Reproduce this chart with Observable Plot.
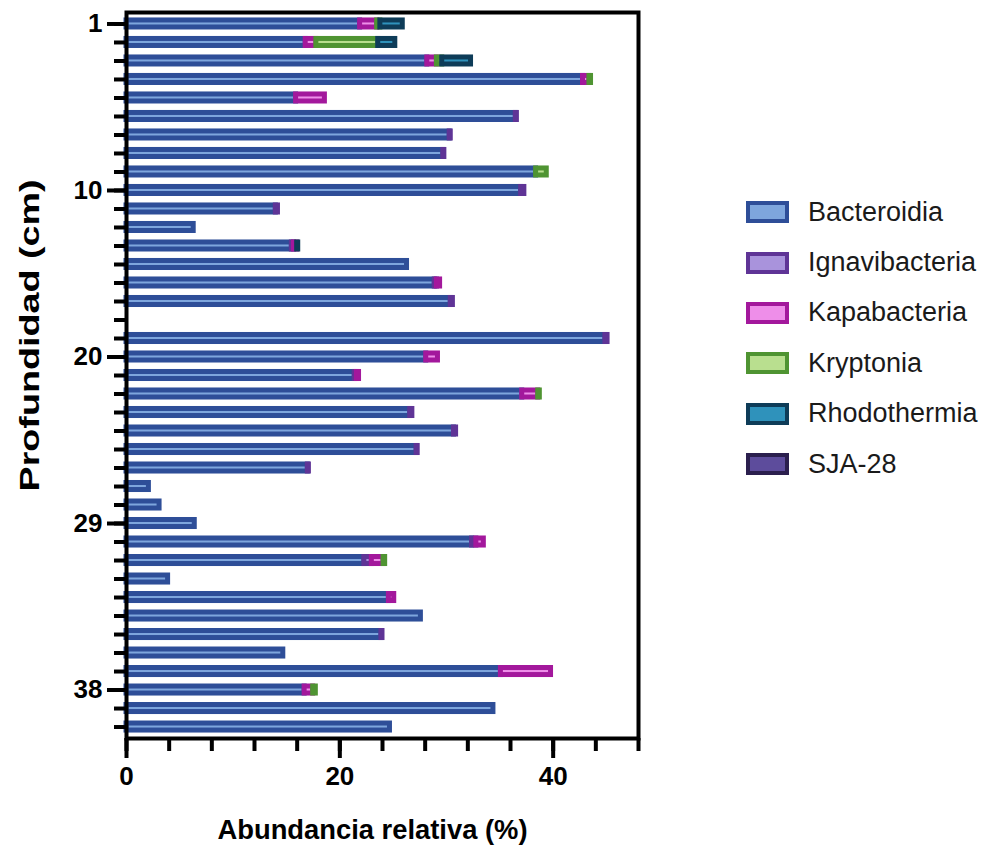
<!DOCTYPE html>
<html>
<head>
<meta charset="utf-8">
<script src="https://cdn.jsdelivr.net/npm/d3@7"></script>
<script src="https://cdn.jsdelivr.net/npm/@observablehq/plot@0.6"></script>
<style>
  body { margin: 0; background: #fff; font-family: "Liberation Sans", Arial, sans-serif; }
  #wrap { position: relative; width: 993px; height: 854px; }
  #legend { position: absolute; left: 746px; top: 187px; }
  .item { display: flex; align-items: center; height: 50.4px; }
  .sw { width: 35px; height: 14px; border: 4px solid; box-sizing: content-box; }
  .lab { margin-left: 19px; font-size: 27px; color: #1a1a1a; }
</style>
</head>
<body>
<div id="wrap"><div id="chart"></div><div id="legend"></div></div>
<script>
// Depth categories (cm); one row (17) has no data
const depths = [1,2,3,4,5,6,7,8,9,10,11,12,13,14,15,16,17,19,20,21,22,23,24,25,26,27,28,29,30,31,32,33,34,35,36,37,38,39,40];
const labelledDepths = ["1","10","20","29","38"];
const classes = ["Bacteroidia","Ignavibacteria","Kapabacteria","Kryptonia","Rhodothermia","SJA-28"];

const bacteroidia   = [21.9,16.8,28.2,42.8,15.9,36.5,30.3,29.7,38.4,37.0,14.0,6.3,15.5,26.3,28.9,30.4,0,44.9,28.1,21.4,37.1,26.6,30.7,27.2,17.0,2.1,3.1,6.4,32.4,22.3,3.9,24.6,27.6,23.9,14.7,35.1,16.7,34.4,24.7];
const ignavibacteria= [0,0,0,0,0,0.1,0.1,0.1,0,0.3,0.2,0,0.2,0,0.2,0.2,0,0.2,0,0.2,0,0.2,0.2,0.1,0.1,0,0,0,0.4,0.7,0,0,0,0.1,0,0,0,0,0];
const kapabacteria  = [1.6,1.0,0.9,0.6,2.7,0,0,0,0,0,0,0,0.3,0,0.3,0,0,0,1.1,0.2,1.5,0,0,0,0,0,0,0,0.7,1.1,0,0.5,0,0,0,4.7,0.8,0,0];
const kryptonia     = [0.3,5.8,0.5,0.15,0,0,0,0,1.0,0,0,0,0,0,0,0,0,0,0,0,0.15,0,0,0,0,0,0,0,0,0.15,0,0,0,0,0,0,0.25,0,0];
const rhodothermia  = [2.1,1.6,2.7,0,0,0,0,0,0,0,0,0,0.1,0,0,0,0,0,0,0,0,0,0,0,0,0,0,0,0,0,0,0,0,0,0,0,0,0,0];
const sja28         = [0,0,0,0,0,0,0,0,0,0,0,0,0,0,0,0,0,0,0,0,0,0,0,0,0,0,0,0,0,0,0,0,0,0,0,0,0,0,0];

const fillColors   = ["#7ea6dd","#a993dc","#ee8ee9","#b9df8f","#2f92bb","#5d4c9c"];
const strokeColors = ["#2e4e98","#5f3496","#a3189c","#4f9432","#0e3c58","#2b1f4e"];

const xTicks = d3.range(0, 49, 4);
const xLabelTicks = [0, 20, 40];

const series = [bacteroidia, ignavibacteria, kapabacteria, kryptonia, rhodothermia, sja28];
const rows = [];
depths.forEach((d, i) => {
  series.forEach((s, k) => {
    if (s[i] > 0) rows.push({depth: String(d), cls: classes[k], k, value: s[i]});
  });
});

const font = "Liberation Sans, Arial, sans-serif";

const chart = Plot.plot({
  width: 993,
  height: 854,
  marginLeft: 126,
  marginRight: 355,
  marginTop: 12,
  marginBottom: 116,
  style: {fontFamily: font, color: "black", background: "white"},
  x: {domain: [0, 48]},
  y: {type: "band", domain: depths.map(String), paddingInner: 0.62, paddingOuter: 0.43, round: false},
  color: {type: "identity"},
  marks: [
    Plot.barX(rows, Plot.stackX({
      x: "value", y: "depth", z: "cls",
      fill: d => fillColors[d.k],
      stroke: d => strokeColors[d.k],
      strokeWidth: 5
    })),
    Plot.axisY(depths.map(String), {tickSize: 12, strokeWidth: 4, tickFormat: () => "", label: null}),
    Plot.axisY(labelledDepths, {
      tickSize: 19, strokeWidth: 4, tickPadding: 5,
      fontSize: 26, fontWeight: "bold", fontFamily: font, fill: "black",
      label: "Profundidad (cm)", labelAnchor: "center", labelOffset: 107
    }),
    Plot.axisX(xTicks, {tickSize: 13, strokeWidth: 4, tickFormat: () => "", label: null}),
    Plot.axisX(xLabelTicks, {
      tickSize: 20, strokeWidth: 4, tickPadding: 8,
      fontSize: 26, fontWeight: "bold", fontFamily: font, fill: "black",
      label: "Abundancia relativa (%)", labelAnchor: "center", labelOffset: 100, labelArrow: "none"
    }),
    Plot.frame({stroke: "black", strokeWidth: 4})
  ]
});
document.getElementById("chart").appendChild(chart);

// stretch and nudge axis titles to the reference's lengths and positions
d3.select(chart).selectAll('g[aria-label="y-axis label"] text')
  .attr("font-size", 27).attr("textLength", 312).attr("lengthAdjust", "spacingAndGlyphs").attr("dx", 40);
d3.select(chart).selectAll('g[aria-label="x-axis label"] text')
  .attr("font-size", 27).attr("textLength", 310).attr("lengthAdjust", "spacingAndGlyphs").attr("dx", -10);

const legend = d3.select("#legend");
classes.forEach((c, k) => {
  const item = legend.append("div").attr("class", "item");
  item.append("div").attr("class", "sw")
    .style("background", fillColors[k]).style("border-color", strokeColors[k]);
  item.append("span").attr("class", "lab").text(c);
});
</script>
</body>
</html>
